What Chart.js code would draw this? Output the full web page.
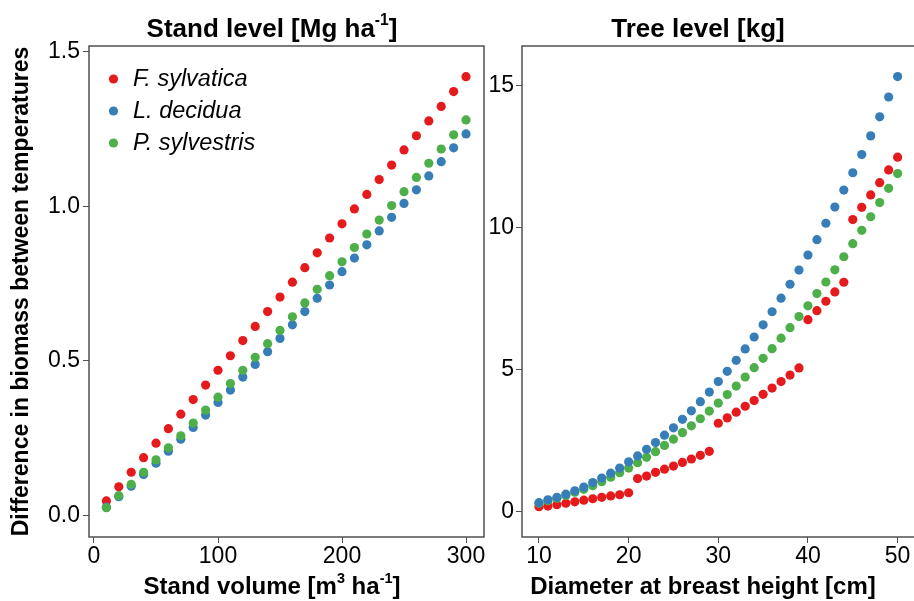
<!DOCTYPE html>
<html>
<head>
<meta charset="utf-8">
<script src="https://cdn.jsdelivr.net/npm/chart.js@4/dist/chart.umd.min.js"></script>
<style>
  html, body { margin: 0; padding: 0; background: #ffffff; overflow: hidden; width: 914px; height: 601px; }
  canvas { position: absolute; top: 0; }
  #left { left: 0px; }
  #right { left: 484px; }
</style>
</head>
<body>
<canvas id="left" width="500" height="601"></canvas>
<canvas id="right" width="440" height="601"></canvas>
<script>
// ---------------- data ----------------
const SPECIES = ['F. sylvatica', 'L. decidua', 'P. sylvestris'];
const COLORS = ['#E41A1C', '#377EB8', '#4DAF4A'];

// Stand level: x = stand volume [m3 ha-1]
const STAND_VOLUME = [10, 20, 30, 40, 50, 60, 70, 80, 90, 100, 110, 120, 130, 140, 150,
  160, 170, 180, 190, 200, 210, 220, 230, 240, 250, 260, 270, 280, 290, 300];
const STAND_FSYL = [0.047, 0.093, 0.140, 0.187, 0.234, 0.281, 0.328, 0.375, 0.422, 0.470,
  0.517, 0.566, 0.612, 0.660, 0.707, 0.755, 0.802, 0.850, 0.898, 0.944,
  0.992, 1.039, 1.087, 1.134, 1.183, 1.229, 1.277, 1.324, 1.372, 1.420];
const STAND_LDEC = [0.027, 0.061, 0.095, 0.133, 0.169, 0.208, 0.247, 0.285, 0.325, 0.366,
  0.406, 0.448, 0.489, 0.530, 0.573, 0.617, 0.660, 0.703, 0.746, 0.789,
  0.833, 0.876, 0.921, 0.965, 1.010, 1.054, 1.099, 1.145, 1.190, 1.235];
const STAND_PSYL = [0.025, 0.064, 0.101, 0.140, 0.180, 0.219, 0.258, 0.299, 0.341, 0.383,
  0.427, 0.470, 0.512, 0.556, 0.599, 0.643, 0.688, 0.732, 0.776, 0.821,
  0.867, 0.911, 0.956, 1.003, 1.048, 1.094, 1.140, 1.186, 1.232, 1.280];

// Tree level: x = diameter at breast height [cm]
const DBH = [10, 11, 12, 13, 14, 15, 16, 17, 18, 19, 20, 21, 22, 23, 24, 25, 26, 27, 28, 29,
  30, 31, 32, 33, 34, 35, 36, 37, 38, 39, 40, 41, 42, 43, 44, 45, 46, 47, 48, 49, 50];
const TREE_FSYL = [0.17, 0.19, 0.24, 0.29, 0.34, 0.40, 0.45, 0.50, 0.55, 0.59, 0.66,
  1.16, 1.25, 1.38, 1.49, 1.60, 1.73, 1.85, 1.98, 2.12,
  3.11, 3.30, 3.50, 3.71, 3.91, 4.13, 4.35, 4.58, 4.81, 5.06,
  6.76, 7.08, 7.41, 7.74, 8.08,
  10.29, 10.72, 11.16, 11.59, 12.04, 12.49];
const TREE_LDEC = [0.31, 0.41, 0.50, 0.61, 0.73, 0.86, 1.02, 1.18, 1.35, 1.53, 1.75,
  1.96, 2.19, 2.43, 2.69, 2.95, 3.25, 3.55, 3.87, 4.21, 4.58, 4.94, 5.33, 5.73, 6.15,
  6.58, 7.04, 7.52, 8.01, 8.51, 9.04, 9.58, 10.16, 10.73, 11.33, 11.94, 12.58, 13.24,
  13.91, 14.61, 15.33];
const TREE_PSYL = [0.29, 0.38, 0.47, 0.56, 0.68, 0.78, 0.91, 1.05, 1.21, 1.37, 1.53,
  1.72, 1.91, 2.11, 2.33, 2.55, 2.78, 3.02, 3.27, 3.54, 3.82, 4.12, 4.42, 4.74, 5.07,
  5.40, 5.74, 6.11, 6.48, 6.87, 7.25, 7.68, 8.09, 8.52, 8.98, 9.44, 9.91, 10.39,
  10.89, 11.39, 11.91];

// Tick labels
const STAND_X_TICKS = [0, 100, 200, 300];
const STAND_Y_TICKS = [0, 0.5, 1.0, 1.5];
const TREE_X_TICKS = [10, 20, 30, 40, 50];
const TREE_Y_TICKS = [0, 5, 10, 15];

// Texts
const Y_TITLE = 'Difference in biomass between temperatures';
const STAND_TITLE = [{ text: 'Stand level [Mg ha' }, { text: '-1', sup: true }, { text: ']' }];
const STAND_XTITLE = [{ text: 'Stand volume [m' }, { text: '3', sup: true }, { text: ' ha' }, { text: '-1', sup: true }, { text: ']' }];
const TREE_TITLE = [{ text: 'Tree level [kg]' }];
const TREE_XTITLE = [{ text: 'Diameter at breast height [cm]' }];

// ---------------- helpers ----------------
const FAM = "'Liberation Sans', Arial, Helvetica, sans-serif";
Chart.defaults.font.family = FAM;
Chart.defaults.color = '#000000';

function toXY(xs, ys) { return xs.map((x, i) => ({ x: x, y: ys[i] })); }

const boxPlugin = {
  id: 'panelBox',
  beforeDatasetsDraw(chart, args, opts) {
    const { left, top, right, bottom } = chart.chartArea;
    const ctx = chart.ctx;
    ctx.save();
    ctx.strokeStyle = opts.color || '#505050';
    ctx.lineWidth = opts.width || 1.5;
    ctx.strokeRect(left, top, right - left + (opts.extendRight || 0), bottom - top);
    ctx.restore();
  }
};

const richTextPlugin = {
  id: 'richText',
  afterDraw(chart, args, opts) {
    const ctx = chart.ctx;
    (opts.items || []).forEach(item => {
      ctx.save();
      let total = 0;
      const parts = item.parts.map(p => {
        const size = p.sup ? item.size * 0.6 : item.size;
        const f = 'bold ' + size + 'px ' + FAM;
        ctx.font = f;
        const w = ctx.measureText(p.text).width;
        total += w;
        return { text: p.text, sup: p.sup, f: f, w: w };
      });
      let x = item.cx - total / 2;
      ctx.fillStyle = '#000000';
      ctx.textAlign = 'left';
      ctx.textBaseline = 'alphabetic';
      parts.forEach(p => {
        ctx.font = p.f;
        ctx.fillText(p.text, x, item.baseline - (p.sup ? item.size * 0.45 : 0));
        x += p.w;
      });
      ctx.restore();
    });
  }
};

const dotLegendPlugin = {
  id: 'dotLegend',
  afterDraw(chart, args, opts) {
    if (!opts.show) return;
    const ctx = chart.ctx;
    const { left, top } = chart.chartArea;
    ctx.save();
    chart.data.datasets.forEach((ds, i) => {
      const cy = top + opts.offsetY + i * opts.spacing;
      const cx = left + opts.offsetX;
      ctx.beginPath();
      ctx.fillStyle = ds.backgroundColor;
      ctx.arc(cx, cy, opts.radius, 0, Math.PI * 2);
      ctx.fill();
      ctx.fillStyle = '#000000';
      ctx.font = 'italic ' + opts.size + 'px ' + FAM;
      ctx.textAlign = 'left';
      ctx.textBaseline = 'alphabetic';
      ctx.fillText(ds.label, cx + opts.textGap, cy + opts.baselineShift);
    });
    ctx.restore();
  }
};

function axisCommon(ticksArr, fmt, pad) {
  return {
    type: 'linear',
    afterBuildTicks: s => { s.ticks = ticksArr.map(v => ({ value: v })); },
    ticks: { font: { size: 23 }, color: '#000000', padding: pad, callback: fmt, maxRotation: 0, autoSkip: false },
    grid: { drawOnChartArea: false, drawTicks: true, tickLength: 6, color: '#505050', lineWidth: 1 },
    border: { display: false }
  };
}

const pointOpts = { radius: 4.6, hoverRadius: 4.6, borderWidth: 0, hitRadius: 0 };

// ---------------- left panel ----------------
const leftX = axisCommon(STAND_X_TICKS, v => String(v), 0);
leftX.min = -4.03; leftX.max = 314.5;
leftX.afterFit = s => { s.height = 64; };
const leftY = axisCommon(STAND_Y_TICKS, v => Number(v).toFixed(1), 3);
leftY.min = -0.0696; leftY.max = 1.5194;
leftY.afterFit = s => { s.width = 89; };
leftY.title = { display: true, text: Y_TITLE, color: '#000000', font: { size: 23, weight: 'bold' }, padding: { top: 8, bottom: 0 } };

new Chart(document.getElementById('left'), {
  type: 'scatter',
  data: {
    datasets: [
      { label: SPECIES[0], data: toXY(STAND_VOLUME, STAND_FSYL), backgroundColor: COLORS[0], order: 2 },
      { label: SPECIES[1], data: toXY(STAND_VOLUME, STAND_LDEC), backgroundColor: COLORS[1], order: 1 },
      { label: SPECIES[2], data: toXY(STAND_VOLUME, STAND_PSYL), backgroundColor: COLORS[2], order: 0 }
    ]
  },
  options: {
    responsive: false, animation: false, devicePixelRatio: 1,
    layout: { padding: { left: 0, top: 46, right: 16, bottom: 0 } },
    elements: { point: pointOpts },
    scales: { x: leftX, y: leftY },
    plugins: {
      legend: { display: false }, tooltip: { enabled: false },
      panelBox: { color: '#505050', width: 1.5, extendRight: 0 },
      richText: { items: [
        { parts: STAND_TITLE, size: 26, cx: 272, baseline: 37 },
        { parts: STAND_XTITLE, size: 24, cx: 272, baseline: 594 }
      ] },
      dotLegend: { show: true, offsetX: 24.5, offsetY: 33, spacing: 32, radius: 4.6, textGap: 19.5, size: 23.5, baselineShift: 7 }
    }
  },
  plugins: [boxPlugin, richTextPlugin, dotLegendPlugin]
});

// ---------------- right panel ----------------
const rightX = axisCommon(TREE_X_TICKS, v => String(v), 0);
rightX.min = 8.107; rightX.max = 52.43;
rightX.afterFit = s => { s.height = 64; };
const rightY = axisCommon(TREE_Y_TICKS, v => String(v), 2);
rightY.min = -0.899; rightY.max = 16.408;
rightY.afterFit = s => { s.width = 38; };

new Chart(document.getElementById('right'), {
  type: 'scatter',
  data: {
    datasets: [
      { label: SPECIES[0], data: toXY(DBH, TREE_FSYL), backgroundColor: COLORS[0], order: 2 },
      { label: SPECIES[1], data: toXY(DBH, TREE_LDEC), backgroundColor: COLORS[1], order: 0 },
      { label: SPECIES[2], data: toXY(DBH, TREE_PSYL), backgroundColor: COLORS[2], order: 1 }
    ]
  },
  options: {
    responsive: false, animation: false, devicePixelRatio: 1,
    layout: { padding: { left: 0, top: 46, right: 4, bottom: 0 } },
    elements: { point: pointOpts },
    scales: { x: rightX, y: rightY },
    plugins: {
      legend: { display: false }, tooltip: { enabled: false },
      panelBox: { color: '#505050', width: 1.5, extendRight: 10 },
      richText: { items: [
        { parts: TREE_TITLE, size: 26, cx: 214, baseline: 37 },
        { parts: TREE_XTITLE, size: 24, cx: 219, baseline: 594 }
      ] },
      dotLegend: { show: false }
    }
  },
  plugins: [boxPlugin, richTextPlugin, dotLegendPlugin]
});
</script>
</body>
</html>
